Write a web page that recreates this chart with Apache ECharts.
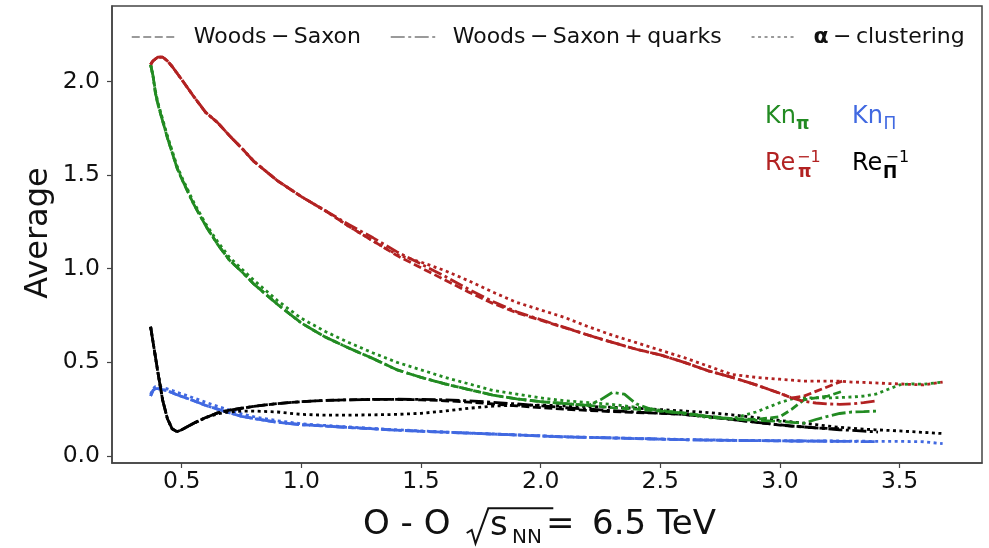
<!DOCTYPE html>
<html><head><meta charset="utf-8">
<script src="https://cdn.jsdelivr.net/npm/echarts@6/dist/echarts.min.js"></script>
<style>html,body{margin:0;padding:0;background:#fff}#c{width:989px;height:548px}</style>
</head><body><div id="c"></div>
<script>
// ---------- axis ticks ----------
const xTicks = [0.5, 1.0, 1.5, 2.0, 2.5, 3.0, 3.5];
const yTicks = [0.0, 0.5, 1.0, 1.5, 2.0];
const modelNames = ['Woods\u2009\u2212\u2009Saxon', 'Woods\u2009\u2212\u2009Saxon\u2009+\u2009quarks', 'α\u2009\u2212\u2009clustering'];

// ---------- x grids ----------
const xWS = [0.37,0.38,0.39,0.40,0.42,0.44,0.46,0.48,0.50,0.55,0.60,0.65,0.70,0.75,0.80,0.90,1.00,1.10,1.20,1.30,1.40,1.50,1.60,1.70,1.80,1.90,2.00,2.10,2.20,2.30,2.40,2.50,2.60,2.70,2.80,2.90,3.00,3.05,3.10,3.15,3.20,3.26];
const xWSQ = [0.37,0.38,0.39,0.40,0.42,0.44,0.46,0.48,0.50,0.55,0.60,0.65,0.70,0.75,0.80,0.90,1.00,1.10,1.20,1.30,1.40,1.50,1.60,1.70,1.80,1.90,2.00,2.10,2.20,2.25,2.30,2.35,2.40,2.45,2.50,2.60,2.70,2.80,2.90,3.00,3.05,3.10,3.15,3.20,3.25,3.30,3.35,3.41];
const xAC = [0.37,0.38,0.39,0.40,0.42,0.44,0.46,0.48,0.50,0.55,0.60,0.65,0.70,0.75,0.80,0.90,1.00,1.10,1.20,1.30,1.40,1.50,1.60,1.70,1.80,1.90,2.00,2.10,2.20,2.30,2.40,2.50,2.60,2.70,2.80,2.90,3.00,3.05,3.10,3.15,3.20,3.25,3.30,3.35,3.40,3.45,3.50,3.55,3.60,3.68];

// ---------- Kn_pi (green) ----------
const knPiWS = [2.09,2.03,1.94,1.88,1.79,1.70,1.62,1.54,1.48,1.345,1.23,1.13,1.045,0.985,0.92,0.81,0.71,0.635,0.575,0.52,0.46,0.42,0.385,0.355,0.325,0.305,0.29,0.28,0.27,0.258,0.25,0.24,0.23,0.212,0.20,0.195,0.21,0.25,0.30,0.31,0.32,0.345];
const knPiWSQ = [2.09,2.03,1.94,1.88,1.79,1.70,1.62,1.54,1.48,1.345,1.23,1.13,1.045,0.985,0.92,0.81,0.71,0.635,0.575,0.52,0.46,0.42,0.385,0.355,0.325,0.305,0.29,0.28,0.27,0.30,0.34,0.33,0.278,0.255,0.24,0.228,0.21,0.197,0.19,0.185,0.18,0.175,0.195,0.212,0.227,0.235,0.237,0.24];
const knPiAC = [2.09,2.03,1.95,1.89,1.80,1.71,1.63,1.55,1.49,1.355,1.24,1.145,1.06,1.0,0.94,0.83,0.735,0.665,0.605,0.55,0.50,0.46,0.42,0.385,0.35,0.33,0.31,0.295,0.285,0.275,0.26,0.245,0.225,0.205,0.20,0.235,0.285,0.305,0.31,0.31,0.31,0.312,0.315,0.32,0.33,0.355,0.38,0.385,0.383,0.395];

// ---------- Re_pi^-1 (red) ----------
const rePiWS = [2.09,2.11,2.12,2.13,2.13,2.11,2.08,2.045,2.01,1.92,1.835,1.78,1.71,1.645,1.575,1.47,1.385,1.31,1.225,1.148,1.07,1.005,0.94,0.875,0.815,0.765,0.725,0.685,0.645,0.607,0.57,0.54,0.50,0.455,0.42,0.38,0.335,0.31,0.32,0.345,0.37,0.40];
const rePiWSQ = [2.09,2.11,2.12,2.13,2.13,2.11,2.08,2.045,2.01,1.92,1.835,1.78,1.71,1.645,1.575,1.47,1.385,1.31,1.235,1.165,1.09,1.025,0.96,0.89,0.825,0.77,0.728,0.687,0.645,0.625,0.607,0.588,0.57,0.555,0.54,0.50,0.455,0.42,0.38,0.335,0.31,0.292,0.283,0.278,0.276,0.278,0.285,0.295];
const rePiAC = [2.09,2.11,2.12,2.13,2.13,2.11,2.08,2.045,2.01,1.92,1.835,1.78,1.71,1.645,1.575,1.47,1.385,1.31,1.225,1.148,1.075,1.035,0.99,0.935,0.875,0.82,0.78,0.74,0.69,0.645,0.605,0.565,0.525,0.48,0.435,0.42,0.41,0.405,0.40,0.40,0.40,0.40,0.395,0.393,0.39,0.387,0.385,0.382,0.38,0.395];

// ---------- Re_Pi^-1 (black) ----------
const rePIWS = [0.69,0.61,0.53,0.45,0.30,0.20,0.145,0.13,0.14,0.175,0.205,0.23,0.245,0.255,0.265,0.28,0.29,0.297,0.30,0.302,0.302,0.30,0.295,0.288,0.278,0.268,0.258,0.25,0.243,0.237,0.232,0.228,0.222,0.21,0.195,0.18,0.165,0.16,0.155,0.15,0.147,0.145];
const rePIWSQ = [0.69,0.61,0.53,0.45,0.30,0.20,0.145,0.13,0.14,0.175,0.205,0.23,0.245,0.255,0.265,0.28,0.29,0.297,0.30,0.302,0.303,0.302,0.30,0.295,0.287,0.278,0.268,0.258,0.25,0.246,0.242,0.238,0.235,0.232,0.229,0.222,0.21,0.195,0.18,0.166,0.16,0.155,0.15,0.145,0.14,0.137,0.133,0.128];
const rePIAC = [0.69,0.61,0.53,0.45,0.30,0.20,0.145,0.13,0.14,0.175,0.205,0.225,0.235,0.24,0.24,0.235,0.222,0.218,0.218,0.22,0.222,0.228,0.24,0.255,0.266,0.272,0.272,0.268,0.264,0.26,0.255,0.248,0.24,0.232,0.22,0.205,0.19,0.182,0.175,0.168,0.16,0.153,0.148,0.143,0.14,0.137,0.134,0.13,0.126,0.12];

// ---------- Kn_Pi (blue) ----------
const knPIWS = [0.32,0.35,0.36,0.36,0.355,0.348,0.338,0.327,0.318,0.295,0.27,0.25,0.23,0.212,0.20,0.18,0.167,0.16,0.152,0.145,0.138,0.132,0.127,0.122,0.117,0.112,0.107,0.102,0.099,0.096,0.093,0.09,0.087,0.085,0.083,0.082,0.081,0.08,0.08,0.079,0.079,0.078];
const knPIWSQ = [0.32,0.35,0.36,0.36,0.355,0.348,0.338,0.327,0.318,0.295,0.27,0.25,0.23,0.212,0.20,0.18,0.167,0.16,0.152,0.145,0.138,0.132,0.127,0.122,0.117,0.112,0.107,0.102,0.099,0.098,0.096,0.095,0.093,0.092,0.09,0.087,0.085,0.083,0.082,0.081,0.08,0.08,0.079,0.079,0.078,0.078,0.077,0.077];
const knPIAC = [0.33,0.36,0.37,0.37,0.365,0.358,0.35,0.34,0.332,0.31,0.287,0.265,0.245,0.225,0.21,0.188,0.172,0.163,0.155,0.147,0.14,0.134,0.128,0.123,0.118,0.113,0.108,0.103,0.10,0.097,0.094,0.091,0.088,0.086,0.084,0.083,0.082,0.081,0.081,0.08,0.08,0.08,0.079,0.079,0.078,0.078,0.078,0.077,0.076,0.066];

// ---------- styling ----------
const GREEN = '#228b22', RED = '#b22222', BLUE = '#4169e1', BLACK = '#000000', GREY = '#7a7a7a';
const DASH = [8, 3.5], DASHDOT = [14, 3.5, 3, 3.5], DOT = [3, 3.5];
const LW = 2.8;
const FONT = 'DejaVu Sans';

function line(xs, ys, color, dash, z) {
  return {
    type: 'line', data: xs.map((x, i) => [x, ys[i]]), symbol: 'none', showSymbol: false,
    lineStyle: { color: color, width: LW, type: dash }, itemStyle: { color: color },
    silent: true, z: z, animation: false
  };
}
const series = [
  line(xWS, knPIWS, BLUE, DASH, 2), line(xWSQ, knPIWSQ, BLUE, DASHDOT, 2), line(xAC, knPIAC, BLUE, DOT, 2),
  line(xWS, rePIWS, BLACK, DASH, 3), line(xWSQ, rePIWSQ, BLACK, DASHDOT, 3), line(xAC, rePIAC, BLACK, DOT, 3),
  line(xWS, knPiWS, GREEN, DASH, 4), line(xWSQ, knPiWSQ, GREEN, DASHDOT, 4), line(xAC, knPiAC, GREEN, DOT, 4),
  line(xWS, rePiWS, RED, DASH, 5), line(xWSQ, rePiWSQ, RED, DASHDOT, 5), line(xAC, rePiAC, RED, DOT, 5)
];
[DASH, DASHDOT, DOT].forEach((d, i) => series.push({
  type: 'line', name: modelNames[i], data: [], symbol: 'none',
  lineStyle: { color: GREY, width: 1.5, type: d }, itemStyle: { color: GREY }
}));

function txt(x, y, s, size, color, opts) {
  return Object.assign({ type: 'text', x: x, y: y, silent: true,
    style: Object.assign({ text: s, fontSize: size, fontFamily: FONT, fill: color, align: 'left', verticalAlign: 'middle' }, opts || {}) });
}

const chart = echarts.init(document.getElementById('c'), null, { renderer: 'canvas' });
chart.setOption({
  animation: false,
  backgroundColor: '#ffffff',
  grid: { left: 112, right: 7, top: 6, bottom: 85, show: true, borderColor: '#444', borderWidth: 1.5, containLabel: false },
  legend: {
    data: modelNames, left: 131, top: 26, padding: 0,
    itemWidth: 45, itemHeight: 14, itemGap: 29,
    itemStyle: { opacity: 0, borderWidth: 0 },
    lineStyle: { width: 1.5 },
    textStyle: { fontFamily: FONT, fontSize: 22, color: '#111', padding: [0, 0, 0, 12],
      rich: { b: { fontFamily: FONT, fontWeight: 'bold', fontSize: 22, color: '#111' }, n: { fontFamily: FONT, fontSize: 22, color: '#111' } } },
    formatter: n => n === modelNames[2] ? '{b|α}{n|\u2009\u2212\u2009clustering}' : n
  },
  xAxis: {
    type: 'value', min: 0.2086, max: 3.8445,
    axisLine: { show: true, onZero: false, lineStyle: { color: '#444', width: 1.5 } },
    axisTick: { show: true, inside: false, length: 5, customValues: xTicks, lineStyle: { color: '#444', width: 1.2 } },
    axisLabel: { customValues: xTicks, formatter: v => v.toFixed(1), fontSize: 23.5, fontFamily: FONT, color: '#111', margin: 7 },
    splitLine: { show: false }
  },
  yAxis: {
    type: 'value', min: -0.0374, max: 2.403,
    axisLine: { show: true, onZero: false, lineStyle: { color: '#444', width: 1.5 } },
    axisTick: { show: true, inside: false, length: 5, customValues: yTicks, lineStyle: { color: '#444', width: 1.2 } },
    axisLabel: { customValues: yTicks, formatter: v => v.toFixed(1), fontSize: 23.5, fontFamily: FONT, color: '#111', margin: 12 },
    splitLine: { show: false }
  },
  series: series,
  graphic: [
    // annotations
    txt(765, 117, 'Kn', 24, GREEN),
    txt(796, 125, 'π', 17, GREEN, { fontWeight: 'bold' }),
    txt(852, 117, 'Kn', 24, BLUE),
    txt(883.5, 125, 'Π', 17, BLUE),
    txt(765, 163.5, 'Re', 24, RED),
    txt(797, 157.5, '\u22121', 16, RED),
    txt(798, 173, 'π', 17, RED, { fontWeight: 'bold' }),
    txt(852, 163.5, 'Re', 24, BLACK),
    txt(885.5, 157.5, '\u22121', 16, BLACK),
    txt(883, 174, 'Π', 17, BLACK, { fontWeight: 'bold' }),
    // y title
    { type: 'text', x: 39, y: 233, rotation: Math.PI / 2, silent: true,
      style: { text: 'Average', fontSize: 32, fontFamily: FONT, fill: '#111', align: 'center', verticalAlign: 'middle' } },
    // x title
    txt(363, 524.7, 'O - O', 34, '#111'),
    { type: 'polyline', silent: true, shape: { points: [[466.7, 533], [471.7, 530], [475.5, 543.5], [488.3, 508.3], [553.3, 508.3]] },
      style: { stroke: '#111', lineWidth: 2, fill: null } },
    txt(490, 526.2, 's', 34, '#111'),
    txt(512, 537.5, 'NN', 20, '#111'),
    txt(546, 524.7, '=', 34, '#111'),
    txt(592, 524.7, '6.5 TeV', 34, '#111')
  ]
});
</script></body></html>
